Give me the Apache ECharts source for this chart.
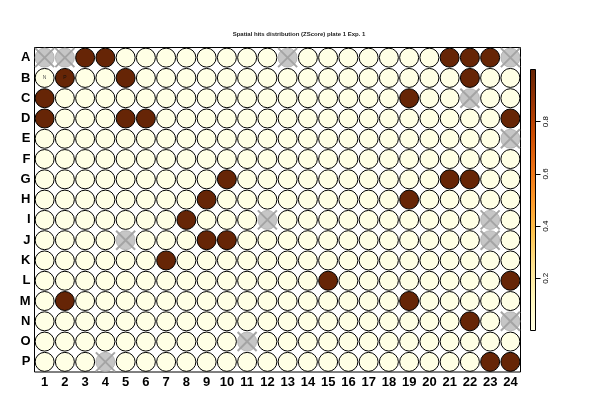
<!DOCTYPE html>
<html>
<head>
<meta charset="utf-8">
<script src="https://cdn.jsdelivr.net/npm/echarts@6/dist/echarts.min.js"></script>
<style>html,body{margin:0;padding:0;background:#fff;}#c{width:591px;height:401px;}</style>
</head>
<body>
<div id="c"></div>
<script>
const rowLabels = ['A','B','C','D','E','F','G','H','I','J','K','L','M','N','O','P'];
const colLabels = ['1','2','3','4','5','6','7','8','9','10','11','12','13','14','15','16','17','18','19','20','21','22','23','24'];
const hitWells = ['A3','A4','A21','A22','A23','B2','B5','B22','C1','C19','D1','D5','D6','D24','G10','G21','G22','H9','H19','I8','J9','J10','K7','L15','L24','M2','M19','N22','P23','P24'];
const naWells = ['A1','A2','A13','A24','C22','E24','I12','I23','J5','J23','N24','O11','P4'];
const controlWells = ['B1','B2'];
const controlTags = ['N','P'];
const colorbarTicks = [0.2,0.4,0.6,0.8];
const titleText = 'Spatial hits distribution (ZScore) plate 1 Exp. 1';

const palette = ['#FFFFE5','#FFF7BC','#FEE391','#FEC44F','#FE9929','#EC7014','#CC4C02','#993404','#662506'];

function wellPos(w){ return [colLabels.indexOf(w.slice(1)), rowLabels.indexOf(w[0])]; }

const valueData = [];
for (let r = 0; r < rowLabels.length; r++) {
  for (let c = 0; c < colLabels.length; c++) {
    const w = rowLabels[r] + colLabels[c];
    if (naWells.indexOf(w) >= 0) continue;
    const v = hitWells.indexOf(w) >= 0 ? 1 : 0;
    const item = {value: [c, r, v]};
    const ci = controlWells.indexOf(w);
    if (ci >= 0) {
      item.label = {show: true, formatter: controlTags[ci], fontSize: 5, color: ci === 0 ? '#555' : '#111', fontFamily: 'Liberation Sans'};
    }
    valueData.push(item);
  }
}
const naData = naWells.map(w => { const p = wellPos(w); return [p[0], p[1]]; });

const gradStops = palette.map((c, i) => ({offset: 1 - i / (palette.length - 1), color: c}));

const chart = echarts.init(document.getElementById('c'));
const labelFont = {fontFamily: 'Liberation Sans', fontWeight: 'bold', fontSize: 13, color: '#000'};
chart.setOption({
  animation: false,
  backgroundColor: '#fff',
  title: {
    text: titleText, left: 294, top: 26, textAlign: 'center',
    textStyle: {fontSize: 6, fontWeight: 'bold', color: '#222', fontFamily: 'Liberation Sans'}
  },
  grid: [
    {left: 34.5, top: 47.5, width: 486, height: 324.5, show: true, borderColor: '#000', borderWidth: 1, backgroundColor: 'transparent'},
    {left: 530.5, top: 69.5, width: 5, height: 261, show: true, borderColor: '#000', borderWidth: 1, backgroundColor: 'transparent', z: 5}
  ],
  xAxis: [
    {type: 'category', data: colLabels, gridIndex: 0, boundaryGap: true,
     axisLine: {show: false}, axisTick: {show: false}, splitLine: {show: false},
     axisLabel: Object.assign({margin: 4, interval: 0}, labelFont)},
    {type: 'category', gridIndex: 1, show: false, data: ['bar'], boundaryGap: true}
  ],
  yAxis: [
    {type: 'category', data: rowLabels, gridIndex: 0, inverse: true, boundaryGap: true,
     axisLine: {show: false}, axisTick: {show: false}, splitLine: {show: false},
     axisLabel: Object.assign({margin: 4, interval: 0}, labelFont)},
    {type: 'value', gridIndex: 1, position: 'right', min: 0, max: 1,
     axisLine: {show: false}, splitLine: {show: false},
     axisTick: {show: true, length: 5, customValues: colorbarTicks, lineStyle: {color: '#000'}},
     axisLabel: {show: true, customValues: colorbarTicks, rotate: 90, margin: 6, fontSize: 8, color: '#000', fontFamily: 'Liberation Sans',
                 formatter: v => v.toFixed(1)}}
  ],
  visualMap: {
    type: 'continuous', min: 0, max: 1, dimension: 2, seriesIndex: 0,
    inRange: {color: palette}, show: false
  },
  series: [
    {type: 'scatter', xAxisIndex: 0, yAxisIndex: 0, symbol: 'circle', symbolSize: 19,
     itemStyle: {borderColor: '#000', borderWidth: 1, opacity: 1}, data: valueData},
    {type: 'custom', xAxisIndex: 0, yAxisIndex: 0, data: naData, z: 4,
     renderItem: function (params, api) {
       const p = api.coord([api.value(0), api.value(1)]);
       const r = 9.5, d = 9.5;
       return {type: 'group', children: [
         {type: 'circle', shape: {cx: p[0], cy: p[1], r: r}, style: {fill: '#C6C6C6', stroke: '#B4B4B4', lineWidth: 1}},
         {type: 'line', shape: {x1: p[0]-d, y1: p[1]-d, x2: p[0]+d, y2: p[1]+d}, style: {stroke: '#A4A4A4', lineWidth: 2}},
         {type: 'line', shape: {x1: p[0]-d, y1: p[1]+d, x2: p[0]+d, y2: p[1]-d}, style: {stroke: '#A4A4A4', lineWidth: 2}}
       ]};
     }},
    {type: 'bar', xAxisIndex: 1, yAxisIndex: 1, data: [1], barWidth: '100%', silent: true,
     itemStyle: {color: new echarts.graphic.LinearGradient(0, 0, 0, 1, gradStops)}}
  ]
});
</script>
</body>
</html>
